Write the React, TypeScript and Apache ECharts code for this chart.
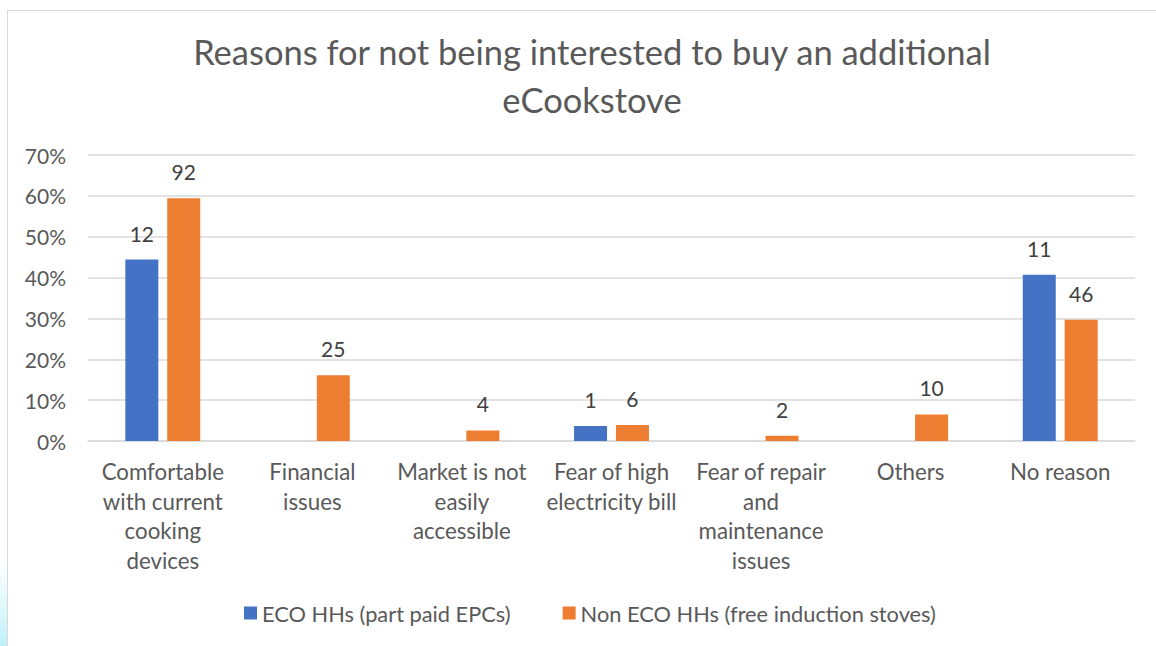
import React, { useEffect, useRef } from "react";
import * as echarts from "echarts";

const categories = [
  "Comfortable\nwith current\ncooking\ndevices",
  "Financial\nissues",
  "Market is not\neasily\naccessible",
  "Fear of high\nelectricity bill",
  "Fear of repair\nand\nmaintenance\nissues",
  "Others",
  "No reason",
];
const ecoPercent = [44.4, null, null, 3.7, null, null, 40.7];
const ecoCounts = [12, null, null, 1, null, null, 11];
const nonEcoPercent = [59.4, 16.1, 2.6, 3.9, 1.3, 6.5, 29.7];
const nonEcoCounts = [92, 25, 4, 6, 2, 10, 46];
const seriesNames = ["ECO HHs (part paid EPCs)", "Non ECO HHs (free induction stoves)"];
const titleText = "Reasons for not being interested to buy an additional\neCookstove";

const FONT = "Lato";
const TXT = "#595959";

export default function App() {
  const ref = useRef<HTMLDivElement>(null);
  useEffect(() => {
    if (!ref.current) return;
    const chart = echarts.init(ref.current, null, { renderer: "svg" });
    const labelFor = (counts: (number | null)[]) => ({
      show: true,
      position: "top" as const,
      distance: 16,
      color: "#404040",
      fontFamily: FONT,
      fontSize: 21,
      formatter: (p: any) => (counts[p.dataIndex] == null ? "" : String(counts[p.dataIndex])),
    });
    chart.setOption({
      animation: false,
      backgroundColor: "#ffffff",
      title: {
        text: titleText,
        left: 587,
        top: 22,
        textAlign: "center",
        textStyle: {
          fontFamily: FONT,
          fontSize: 34.5,
          fontWeight: "normal",
          color: TXT,
          lineHeight: 48,
        },
      },
      graphic: [
        {
          type: "rect",
          shape: { x: 7.5, y: 10.5, width: 1300, height: 800 },
          style: { fill: "none", stroke: "#d9d9d9", lineWidth: 1 },
          silent: true,
        },
        {
          type: "rect",
          shape: { x: 0, y: 560, width: 7, height: 86 },
          style: {
            fill: new echarts.graphic.LinearGradient(0, 0, 0, 1, [
              { offset: 0, color: "rgba(200,245,250,0)" },
              { offset: 1, color: "rgba(190,240,248,1)" },
            ]),
          },
          silent: true,
        },
      ],
      legend: {
        top: 597,
        left: 239,
        itemWidth: 13,
        itemHeight: 13,
        itemGap: 52,
        icon: "rect",
        textStyle: { fontFamily: FONT, fontSize: 21.8, color: TXT },
        data: seriesNames,
      },
      grid: { left: 88, right: 21, top: 155, bottom: 205, containLabel: false },
      xAxis: {
        type: "category",
        data: categories,
        axisLine: { show: true, lineStyle: { color: "#d9d9d9", width: 1.5 } },
        axisTick: { show: false },
        axisLabel: {
          interval: 0,
          margin: 16,
          fontFamily: FONT,
          fontSize: 22.3,
          color: TXT,
          lineHeight: 29.5,
          align: "center",
        },
      },
      yAxis: {
        type: "value",
        min: 0,
        max: 70,
        interval: 10,
        axisLine: { show: false },
        axisTick: { show: false },
        splitLine: { lineStyle: { color: "#d9d9d9", width: 1.5 } },
        axisLabel: {
          formatter: "{value}%",
          fontFamily: FONT,
          fontSize: 21,
          color: TXT,
          margin: 22,
        },
      },
      series: [
        {
          name: seriesNames[0],
          type: "bar",
          data: ecoPercent,
          barWidth: 33,
          barGap: "27%",
          itemStyle: { color: "#4472c4" },
          label: labelFor(ecoCounts),
        },
        {
          name: seriesNames[1],
          type: "bar",
          data: nonEcoPercent,
          barWidth: 33,
          barGap: "27%",
          itemStyle: { color: "#ed7d31" },
          label: labelFor(nonEcoCounts),
        },
      ],
    });
    return () => chart.dispose();
  }, []);
  return (
    <div
      ref={ref}
      style={{ position: "fixed", left: 0, top: 0, width: 1156, height: 646 }}
    />
  );
}
